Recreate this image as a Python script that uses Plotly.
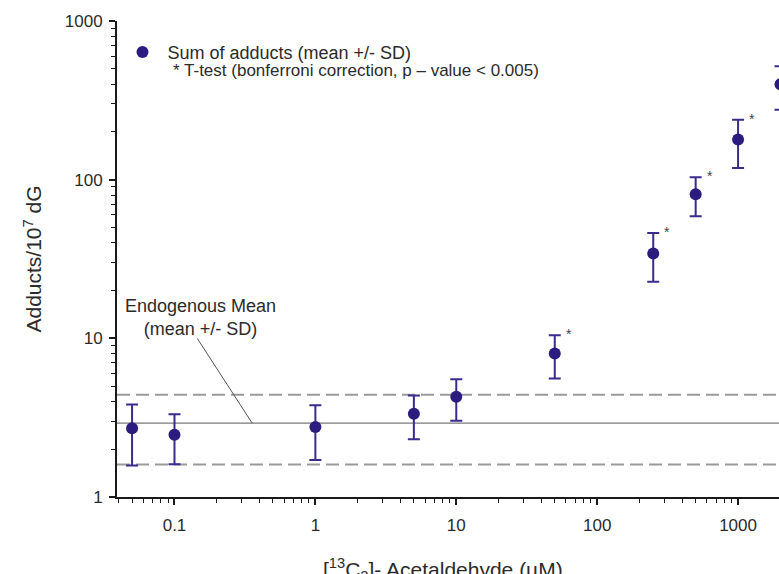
import numpy as np
import plotly.graph_objects as go

# ---- data ----
conc = [0.05, 0.1, 1, 5, 10, 50, 250, 500, 1000, 2000]          # [13C2]-acetaldehyde, uM
adduct_mean = [2.71, 2.47, 2.76, 3.35, 4.28, 8.03, 34.2, 80.9, 179, 399]
adduct_upper = [3.83, 3.32, 3.78, 4.37, 5.53, 10.47, 46.2, 103.5, 239, 518]
adduct_lower = [1.58, 1.61, 1.71, 2.31, 3.02, 5.59, 22.7, 58.8, 118.5, 276]
significant = [False, False, False, False, False, True, True, True, True, True]

endo_mean = 2.92
endo_upper = 4.41
endo_lower = 1.60

x_ticks = [0.1, 1, 10, 100, 1000]
x_ticktext = ["0.1", "1", "10", "100", "1000"]
y_ticks = [1, 10, 100, 1000]
y_ticktext = ["1", "10", "100", "1000"]

# ---- style ----
FONT = "Liberation Sans, Arial, sans-serif"
PURPLE = "#2d1c80"
BAR = "#3b2b8c"
AXIS = "#1a1a1a"
TXT = "#2b2b2b"

W, H = 800, 574          # figure is a bit wider than the window; the right edge is cropped as in the reference
L, T, B = 116.5, 20.7, 77
PW, PH = W - L, H - T - B
DEC = 141.0              # pixels per decade on x
X0 = -1.408
X1 = X0 + PW / DEC

err_plus = [u - m for u, m in zip(adduct_upper, adduct_mean)]
err_minus = [m - l for m, l in zip(adduct_mean, adduct_lower)]

fig = go.Figure()
fig.add_trace(go.Scatter(
    x=conc, y=adduct_mean, mode="markers",
    name="Sum of adducts (mean +/- SD)",
    marker=dict(size=12, color=PURPLE),
    error_y=dict(type="data", symmetric=False, array=err_plus, arrayminus=err_minus,
                 color=BAR, thickness=2, width=6),
    cliponaxis=False,
))

# significance stars
for xv, uv, s in zip(conc, adduct_upper, significant):
    if s:
        fig.add_annotation(x=np.log10(xv), y=np.log10(uv), text="*", showarrow=False,
                           xshift=14, yshift=1, font=dict(size=14, color="#444", family=FONT))

# endogenous mean +/- SD lines
line_specs = [(endo_mean, "solid", "#7a7a7a", 1.3),
              (endo_upper, "13px,6px", "#9a9a9a", 2),
              (endo_lower, "13px,6px", "#9a9a9a", 2)]
for yv, dash, col, w in line_specs:
    fig.add_shape(type="line", xref="paper", x0=0, x1=1, yref="y", y0=yv, y1=yv,
                  line=dict(color=col, width=w, dash=dash), layer="below")

# leader line for the endogenous-mean label
fig.add_shape(type="line", xref="x", yref="y", x0=0.145, y0=10.0, x1=0.356, y1=endo_mean,
              line=dict(color="#555", width=1))
fig.add_annotation(xref="paper", yref="paper", x=(200 - L) / PW, y=(497 - 317.5) / PH,
                   xanchor="center", yanchor="middle",
                   text="Endogenous Mean<br>(mean +/- SD)", showarrow=False,
                   font=dict(size=18, color=TXT, family=FONT), align="center")

# second legend line
fig.add_annotation(xref="paper", yref="paper", x=(171 - L) / PW, y=(497 - 70) / PH,
                   xanchor="left", yanchor="middle", showarrow=False,
                   text="* T-test (bonferroni correction, p \u2013 value < 0.005)",
                   font=dict(size=17, color=TXT, family=FONT))

# x-axis title (cropped at the bottom edge, as in the reference)
fig.add_annotation(xref="paper", yref="paper", x=(443 - L) / PW, y=(497 - 553) / PH,
                   xanchor="center", yanchor="top", showarrow=False,
                   text="[<sup>13</sup>C<sub>2</sub>]- Acetaldehyde (\u00b5M)",
                   font=dict(size=21, color=TXT, family=FONT))

minor_x = [d * 10.0 ** e for e in range(-2, 4) for d in range(2, 10)]
minor_y = [d * 10.0 ** e for e in range(0, 3) for d in range(2, 10)]

fig.update_layout(
    width=W, height=H,
    margin=dict(l=L, r=0, t=T, b=B, autoexpand=False),
    paper_bgcolor="white", plot_bgcolor="white",
    font=dict(family=FONT, color=TXT),
    showlegend=True,
    legend=dict(x=(117 - L) / PW, y=(497 - 33.5) / PH, xanchor="left", yanchor="top",
                font=dict(size=18, color=TXT, family=FONT), bgcolor="rgba(0,0,0,0)",
                itemwidth=40),
    xaxis=dict(
        type="log", range=[X0, X1], automargin=False,
        tickvals=x_ticks, ticktext=x_ticktext,
        ticks="outside", ticklen=6, tickwidth=1.5, tickcolor=AXIS,
        minor=dict(ticks="outside", ticklen=4, tickwidth=1.2, tickcolor=AXIS, tickvals=minor_x),
        showline=True, linecolor=AXIS, linewidth=2, showgrid=False, zeroline=False,
        tickfont=dict(size=17, color=TXT, family=FONT), ticklabelstandoff=6,
    ),
    yaxis=dict(
        type="log", range=[0, 3], automargin=False,
        tickvals=y_ticks, ticktext=y_ticktext,
        ticks="outside", ticklen=6, tickwidth=1.5, tickcolor=AXIS,
        minor=dict(ticks="outside", ticklen=4, tickwidth=1.2, tickcolor=AXIS, tickvals=minor_y),
        showline=True, linecolor=AXIS, linewidth=2, showgrid=False, zeroline=False,
        tickfont=dict(size=17, color=TXT, family=FONT), ticklabelstandoff=3,
        title=dict(text="Adducts/10<sup>7</sup> dG",
                   font=dict(size=21, color=TXT, family=FONT), standoff=17),
    ),
)

fig.write_html(
    "out.html",
    config={"displayModeBar": False},
    post_script="document.body.style.margin='0px';document.body.style.overflow='hidden';",
)
